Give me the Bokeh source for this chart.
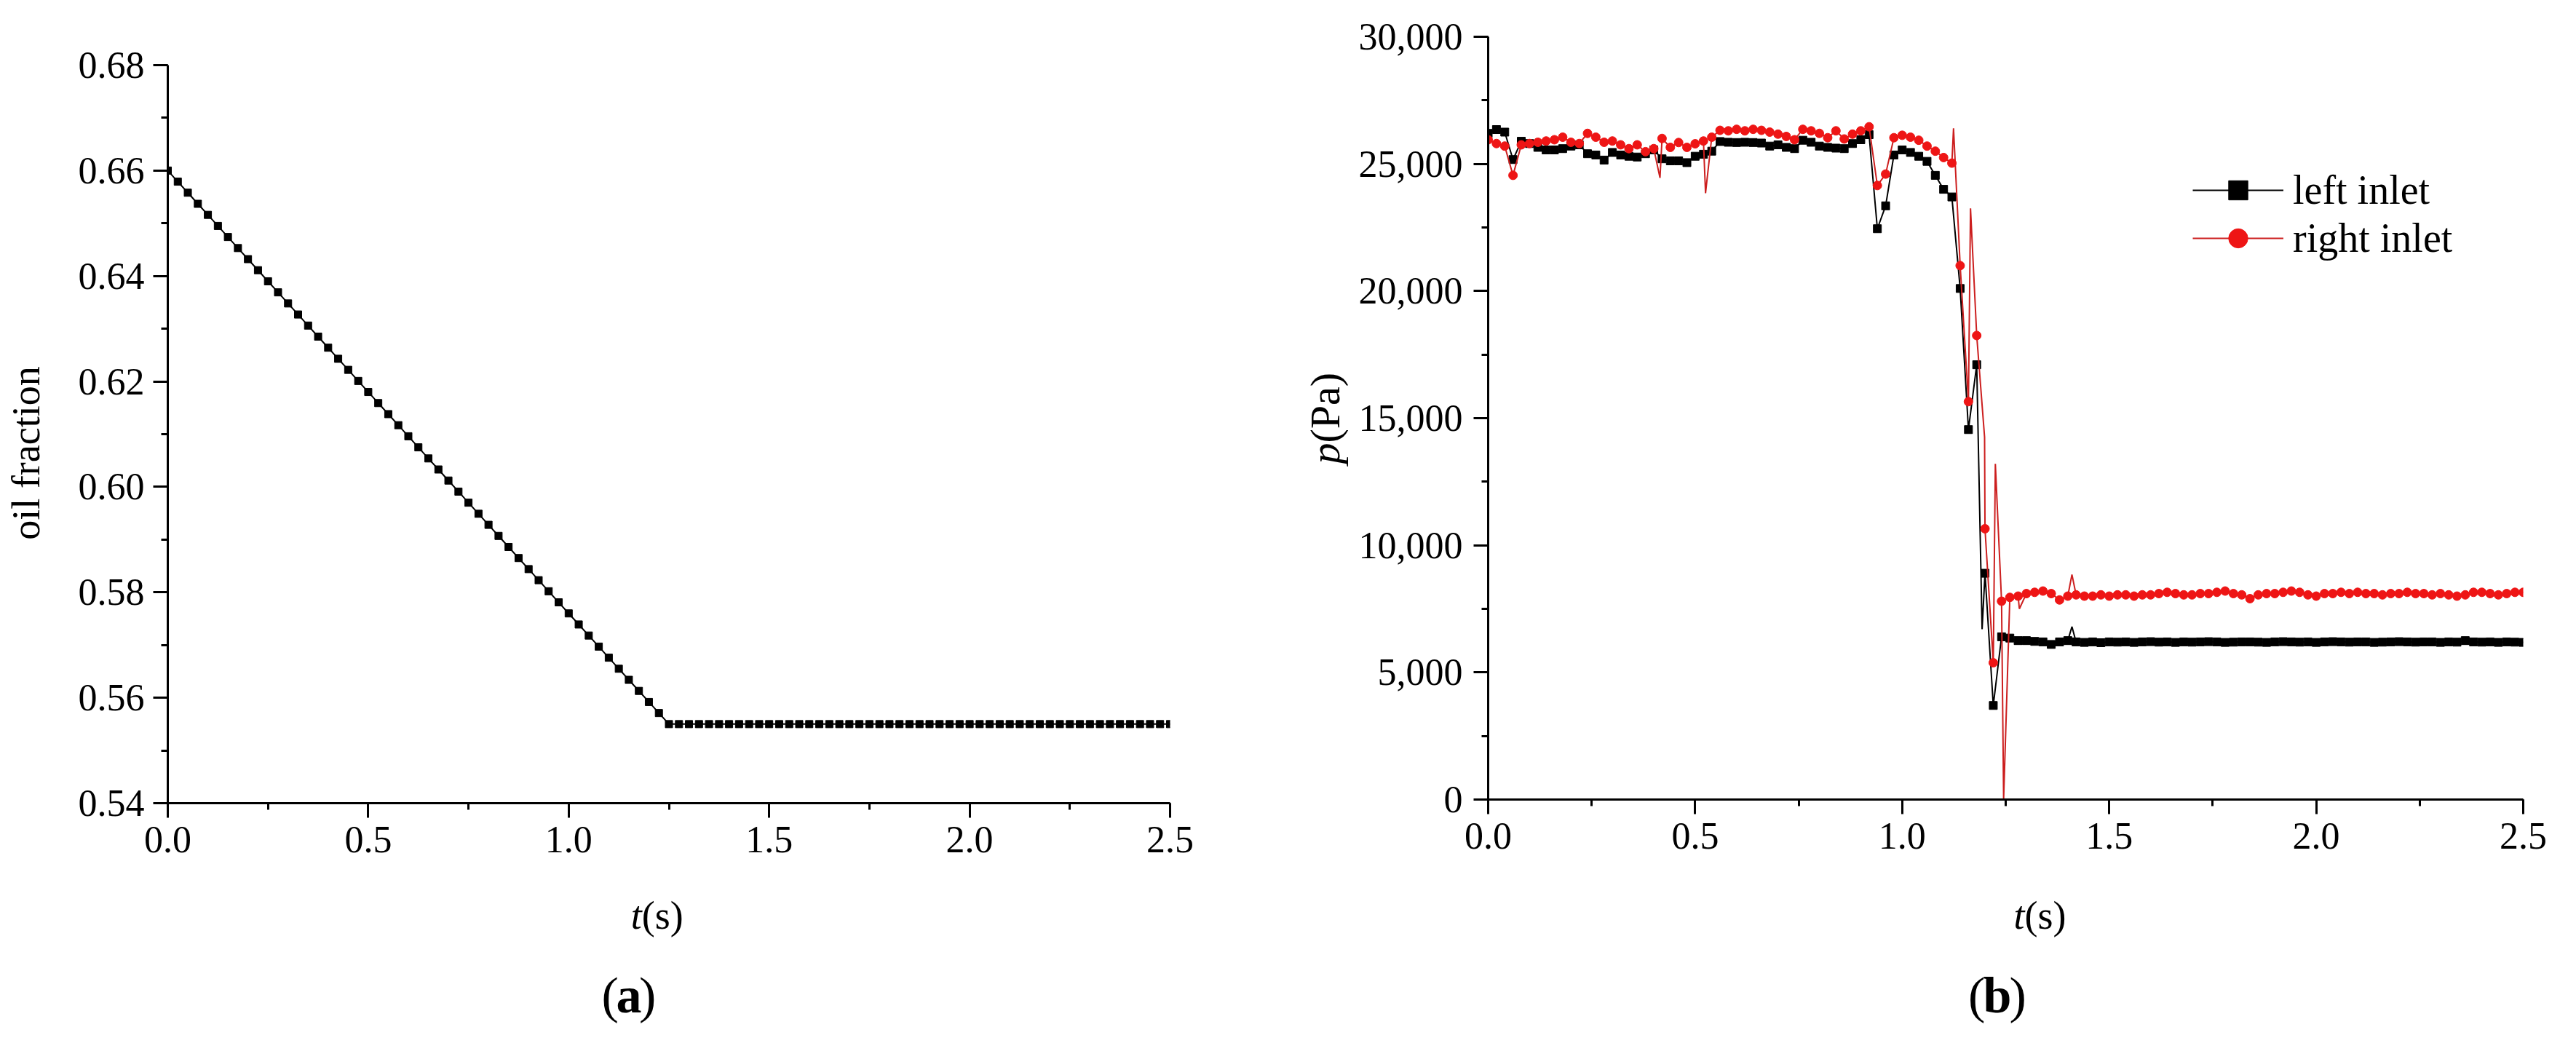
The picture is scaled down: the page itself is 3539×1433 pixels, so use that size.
import math
from bokeh.plotting import figure
from bokeh.layouts import row, column
from bokeh.models import (Range1d, SingleIntervalTicker, NumeralTickFormatter,
                          Label, Legend, LegendItem)
from bokeh.embed import file_html
from bokeh.resources import INLINE

FONT = "Liberation Serif"

# ---------------- data: panel (a) ----------------
OIL_DT = 0.025
OIL_FRACTION = [
    0.6600, 0.6579, 0.6558, 0.6537, 0.6516, 0.6495, 0.6474, 0.6453, 0.6432, 0.6411,
    0.6390, 0.6369, 0.6348, 0.6327, 0.6306, 0.6285, 0.6264, 0.6243, 0.6222, 0.6201,
    0.6180, 0.6159, 0.6138, 0.6117, 0.6096, 0.6075, 0.6054, 0.6033, 0.6012, 0.5991,
    0.5970, 0.5949, 0.5928, 0.5907, 0.5886, 0.5865, 0.5844, 0.5823, 0.5802, 0.5781,
    0.5760, 0.5739, 0.5718, 0.5697, 0.5676, 0.5655, 0.5634, 0.5613, 0.5592, 0.5571,
    0.5550,
    0.5550, 0.5550, 0.5550, 0.5550, 0.5550, 0.5550, 0.5550, 0.5550, 0.5550, 0.5550,
    0.5550, 0.5550, 0.5550, 0.5550, 0.5550, 0.5550, 0.5550, 0.5550, 0.5550, 0.5550,
    0.5550, 0.5550, 0.5550, 0.5550, 0.5550, 0.5550, 0.5550, 0.5550, 0.5550, 0.5550,
    0.5550, 0.5550, 0.5550, 0.5550, 0.5550, 0.5550, 0.5550, 0.5550, 0.5550, 0.5550,
    0.5550, 0.5550, 0.5550, 0.5550, 0.5550, 0.5550, 0.5550, 0.5550, 0.5550, 0.5550,
]
OIL_T = [round(i * OIL_DT, 3) for i in range(len(OIL_FRACTION))]

# ---------------- data: panel (b) ----------------
P_DT = 0.02
LEFT_INLET = [
    26200, 26350, 26250, 25170, 25890, 25800, 25650, 25550, 25550, 25600,
    25700, 25750, 25400, 25350, 25150, 25450, 25350, 25300, 25270, 25400,
    25550, 25200, 25120, 25120, 25050, 25300, 25380, 25500, 25880, 25850,
    25840, 25850, 25840, 25820, 25700, 25750, 25650, 25600, 25930, 25850,
    25700, 25650, 25620, 25600, 25800, 25950, 26150, 22450, 23350, 25350,
    25550, 25450, 25300, 25100, 24550, 24000, 23700, 20100, 14550, 17100,
    8900, 3700, 6400, 6350, 6250, 6250, 6220, 6200, 6100, 6200,
    6250, 6200,
    6180, 6200, 6170, 6200, 6190, 6200, 6180, 6200, 6210, 6190,
    6200, 6180, 6200, 6190, 6200, 6210, 6200, 6180, 6190, 6200,
    6200, 6190, 6180, 6200, 6210, 6200, 6190, 6200, 6180, 6200,
    6210, 6200, 6190, 6200, 6200, 6180, 6190, 6200, 6210, 6200,
    6190, 6200, 6200, 6180, 6200, 6190, 6250, 6200, 6190, 6200,
    6180, 6200, 6190, 6180,
]
RIGHT_INLET = [
    25950, 25800, 25700, 24550, 25750, 25800, 25850, 25900, 25950, 26050,
    25850, 25800, 26200, 26050, 25850, 25900, 25750, 25600, 25750, 25480,
    25600, 26000, 25650, 25840, 25650, 25790, 25900, 26050, 26320, 26300,
    26360, 26300, 26360, 26320, 26250, 26170, 26080, 25950, 26360, 26300,
    26200, 26030, 26300, 25980, 26170, 26300, 26460, 24150, 24600, 26030,
    26125, 26050, 25930, 25700, 25500, 25250, 25030, 21000, 15650, 18250,
    10650, 5380, 7800, 7950, 8000, 8100, 8150, 8200, 8100, 7850,
    8000, 8050,
    8000, 8000, 8050, 8000, 8050, 8050, 8000, 8050, 8050, 8100,
    8150, 8100, 8050, 8050, 8100, 8100, 8150, 8200, 8100, 8050,
    7900, 8050, 8100, 8100, 8150, 8200, 8150, 8050, 8000, 8100,
    8100, 8150, 8100, 8150, 8100, 8100, 8050, 8100, 8100, 8150,
    8100, 8100, 8050, 8100, 8050, 8000, 8050, 8150, 8150, 8100,
    8050, 8100, 8150, 8150,
]
P_T = [round(i * P_DT, 2) for i in range(len(LEFT_INLET))]

# line-only excursions between sampled markers (time, pressure)
LEFT_SPIKE_T = [1.193, 1.41]
LEFT_SPIKE_P = [6700, 6800]
RIGHT_SPIKE_T = [0.415, 0.525, 1.124, 1.165, 1.199, 1.225, 1.245, 1.283, 1.41]
RIGHT_SPIKE_P = [24450, 23850, 26400, 23250, 14250, 13200, 0, 7500, 8850]

X_TICKS_INTERVAL = 0.5
Y_TICKS_A_INTERVAL = 0.02
Y_TICKS_B_INTERVAL = 5000


def merged(t, v, st, sv):
    pts = sorted(list(zip(t, v)) + list(zip(st, sv)), key=lambda q: q[0])
    return [q[0] for q in pts], [q[1] for q in pts]


def style_axis(ax):
    ax.axis_line_width = 3
    ax.axis_line_color = "black"
    ax.major_tick_line_width = 3
    ax.minor_tick_line_width = 3
    ax.major_tick_line_color = "black"
    ax.minor_tick_line_color = "black"
    ax.major_tick_out = 20
    ax.major_tick_in = 0
    ax.minor_tick_out = 9
    ax.minor_tick_in = 0
    ax.major_label_text_font = FONT
    ax.major_label_text_font_size = "52px"
    ax.major_label_text_color = "black"
    ax.major_label_standoff = 12


def blank(width, height, xr, yr, fill="white"):
    f = figure(width=width, height=height, x_range=xr, y_range=yr,
               x_axis_location=None, y_axis_location=None,
               output_backend="svg", toolbar_location=None,
               min_border=0, min_border_left=0, min_border_right=0,
               min_border_top=0, min_border_bottom=0)
    f.grid.visible = False
    f.outline_line_color = None
    f.background_fill_color = fill
    f.border_fill_color = fill
    return f


def lab(p, x, y, text, size="54px", style="normal", align="center", angle=0.0):
    p.add_layout(Label(x=x, y=y, text=text,
                       text_font=FONT, text_font_size=size, text_font_style=style,
                       text_align=align, text_baseline="middle", angle=angle,
                       text_color="black"))


TOP_H = 1207      # height of the two plotting figures
CAP_H = 210       # height of the caption strips below them
FULL_H = TOP_H + CAP_H

# ---------------- y label strip for panel (a) ----------------
YL1_W = 80
ylab1 = blank(YL1_W, FULL_H, Range1d(0, YL1_W), Range1d(FULL_H, 0))
lab(ylab1, 35, 622, "oil fraction", size="54px", angle=math.pi / 2)

# ---------------- panel (a) ----------------
P1_W = 1700
p1 = figure(width=P1_W, height=TOP_H, x_range=Range1d(0, 2.5), y_range=Range1d(0.54, 0.68),
            output_backend="svg", toolbar_location=None,
            min_border_left=150, min_border_right=P1_W - 150 - 1377, min_border_top=89,
            min_border_bottom=104)
p1.grid.visible = False
p1.outline_line_color = None
p1.xaxis.ticker = SingleIntervalTicker(interval=X_TICKS_INTERVAL, num_minor_ticks=2)
p1.yaxis.ticker = SingleIntervalTicker(interval=Y_TICKS_A_INTERVAL, num_minor_ticks=2)
p1.xaxis.formatter = NumeralTickFormatter(format="0.0")
p1.yaxis.formatter = NumeralTickFormatter(format="0.00")
style_axis(p1.xaxis[0])
style_axis(p1.yaxis[0])

p1.line(OIL_T, OIL_FRACTION, line_color="black", line_width=2)
p1.scatter(OIL_T, OIL_FRACTION, marker="square", size=10, fill_color="black", line_color="black")

cap1 = blank(P1_W, CAP_H, Range1d(0, P1_W), Range1d(CAP_H, 0))
lab(cap1, 804, 50, "t", style="italic", align="right")
lab(cap1, 804, 50, "(s)", align="left")
lab(cap1, 764.5, 160, "(", size="70px", align="right")
lab(cap1, 782, 160, "a", size="70px", style="bold", align="center")
lab(cap1, 799.5, 160, ")", size="70px", align="left")

# ---------------- y label strip for panel (b) ----------------
YL2_W = 72
ylab2 = blank(YL2_W, FULL_H, Range1d(0, YL2_W), Range1d(FULL_H, 0))
lab(ylab2, 40, 608, "p", size="58px", style="italic", align="right", angle=math.pi / 2)
lab(ylab2, 40, 608, "(Pa)", size="58px", align="left", angle=math.pi / 2)

# ---------------- panel (b) ----------------
P2_W = 3523 - YL1_W - P1_W - YL2_W
p2 = figure(width=P2_W, height=TOP_H, x_range=Range1d(0, 2.5), y_range=Range1d(0, 30000),
            output_backend="svg", toolbar_location=None,
            min_border_left=P2_W - 1422 - 57, min_border_right=57, min_border_top=50,
            min_border_bottom=TOP_H - 50 - 1048)
p2.grid.visible = False
p2.outline_line_color = None
p2.xaxis.ticker = SingleIntervalTicker(interval=X_TICKS_INTERVAL, num_minor_ticks=2)
p2.yaxis.ticker = SingleIntervalTicker(interval=Y_TICKS_B_INTERVAL, num_minor_ticks=2)
p2.xaxis.formatter = NumeralTickFormatter(format="0.0")
p2.yaxis.formatter = NumeralTickFormatter(format="0,0")
style_axis(p2.xaxis[0])
style_axis(p2.yaxis[0])
p2.yaxis.major_label_standoff = 15

lt, lp = merged(P_T, LEFT_INLET, LEFT_SPIKE_T, LEFT_SPIKE_P)
rt, rp = merged(P_T, RIGHT_INLET, RIGHT_SPIKE_T, RIGHT_SPIKE_P)

l1 = p2.line(lt, lp, line_color="black", line_width=2)
m1 = p2.scatter(P_T, LEFT_INLET, marker="square", size=11, fill_color="black", line_color="black")
l2 = p2.line(rt, rp, line_color="#cc1f1f", line_width=2)
m2 = p2.scatter(P_T, RIGHT_INLET, marker="circle", size=12, fill_color="#ee1515", line_color="#ee1515")

legend = Legend(items=[LegendItem(label="left inlet", renderers=[l1, m1]),
                       LegendItem(label="right inlet", renderers=[l2, m2])],
                location=(968, 738), glyph_width=125, glyph_height=66, label_height=66,
                label_standoff=13, padding=0, margin=0, spacing=0,
                border_line_color=None, background_fill_alpha=0,
                label_text_font=FONT, label_text_font_size="56px", label_text_color="black")
p2.add_layout(legend)

cap2 = blank(P2_W, CAP_H, Range1d(0, P2_W), Range1d(CAP_H, 0))
lab(cap2, 866, 50, "t", style="italic", align="right")
lab(cap2, 866, 50, "(s)", align="left")
lab(cap2, 802.5, 160, "(", size="70px", align="right")
lab(cap2, 822, 160, "b", size="70px", style="bold", align="center")
lab(cap2, 841.5, 160, ")", size="70px", align="left")

layout = row(ylab1, column(p1, cap1), ylab2, column(p2, cap2))
open("out.html", "w").write(file_html(layout, INLINE))
